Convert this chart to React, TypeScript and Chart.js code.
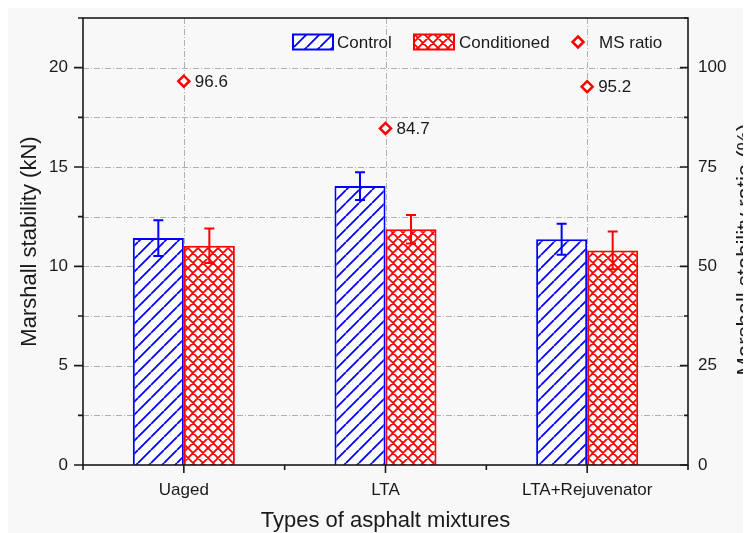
import { useEffect, useRef } from "react";
import { Chart, registerables } from "chart.js";

Chart.register(...registerables);

// Mixture types on the category axis
const categories = ["Uaged", "LTA", "LTA+Rejuvenator"];

// Marshall stability (kN), mean and standard deviation
const controlStability = [11.42, 14.04, 11.36];
const controlError = [0.9, 0.7, 0.78];
const conditionedStability = [11.04, 11.87, 10.8];
const conditionedError = [0.87, 0.72, 0.95];

// Marshall stability ratio (%)
const msRatio = [96.6, 84.7, 95.2];

// Axis ticks
const leftTicks = [0, 5, 10, 15, 20];
const leftMinorTicks = [2.5, 7.5, 12.5, 17.5, 22.5];
const rightTicks = [0, 25, 50, 75, 100];
const rightMinorTicks = [12.5, 37.5, 62.5, 87.5, 112.5];

const FONT = "'Liberation Sans', Arial, sans-serif";
const BLUE = "#0000ff";
const RED = "#ff0000";
const INK = "#1a1a1a";
const BG = "#f8f8f8";
const GRID = "#b0b0b0";

function hatchPattern(ctx: CanvasRenderingContext2D) {
  const s = 13;
  const c = document.createElement("canvas");
  c.width = s;
  c.height = s;
  const g = c.getContext("2d")!;
  g.fillStyle = "#ffffff";
  g.fillRect(0, 0, s, s);
  g.strokeStyle = BLUE;
  g.lineWidth = 1.8;
  g.beginPath();
  for (const o of [-s, 0, s]) {
    g.moveTo(o, s);
    g.lineTo(o + s, 0);
  }
  g.stroke();
  return ctx.createPattern(c, "repeat")!;
}

function crossPattern(ctx: CanvasRenderingContext2D) {
  const s = 20;
  const c = document.createElement("canvas");
  c.width = s;
  c.height = s;
  const g = c.getContext("2d")!;
  g.fillStyle = "#ffffff";
  g.fillRect(0, 0, s, s);
  g.strokeStyle = RED;
  g.lineWidth = 1.8;
  g.beginPath();
  for (let o = -s; o <= s; o += s / 2) {
    g.moveTo(o, s);
    g.lineTo(o + s, 0);
    g.moveTo(o, 0);
    g.lineTo(o + s, s);
  }
  g.stroke();
  return ctx.createPattern(c, "repeat")!;
}

function drawDiamond(ctx: CanvasRenderingContext2D, x: number, y: number, r: number) {
  ctx.beginPath();
  ctx.moveTo(x, y - r);
  ctx.lineTo(x + r, y);
  ctx.lineTo(x, y + r);
  ctx.lineTo(x - r, y);
  ctx.closePath();
  ctx.fillStyle = "#ffffff";
  ctx.fill();
  ctx.strokeStyle = RED;
  ctx.lineWidth = 2.5;
  ctx.stroke();
}

function noPadding(s: any) {
  s.paddingTop = 0;
  s.paddingBottom = 0;
  s.paddingLeft = 0;
  s.paddingRight = 0;
}

const decorations = {
  id: "decorations",
  beforeDraw(chart: any) {
    const { ctx, width, height } = chart;
    ctx.save();
    ctx.fillStyle = BG;
    ctx.fillRect(0, 0, width, height);
    ctx.restore();
  },
  beforeDatasetsDraw(chart: any) {
    const { ctx, chartArea: a, scales } = chart;
    const y = scales.y;
    const x = scales.x;
    ctx.save();
    ctx.strokeStyle = GRID;
    ctx.lineWidth = 1;
    ctx.setLineDash([6, 2, 1, 2]);
    for (const v of [...leftTicks, ...leftMinorTicks]) {
      if (v <= 0 || v >= 22.5) continue;
      const py = Math.round(y.getPixelForValue(v)) + 0.5;
      ctx.beginPath();
      ctx.moveTo(a.left, py);
      ctx.lineTo(a.right, py);
      ctx.stroke();
    }
    for (let i = 0; i < categories.length; i++) {
      const px = Math.round(x.getPixelForValue(i)) + 0.5;
      ctx.beginPath();
      ctx.moveTo(px, a.top);
      ctx.lineTo(px, a.bottom);
      ctx.stroke();
    }
    ctx.restore();
  },
  afterDatasetsDraw(chart: any) {
    const { ctx, scales } = chart;
    const y = scales.y;
    ctx.save();
    chart.data.datasets.forEach((ds: any, di: number) => {
      if (!ds.errors) return;
      const meta = chart.getDatasetMeta(di);
      ctx.strokeStyle = ds.borderColor;
      ctx.lineWidth = 2;
      meta.data.forEach((bar: any, i: number) => {
        const v = ds.data[i];
        const e = ds.errors[i];
        const top = y.getPixelForValue(v + e);
        const bot = y.getPixelForValue(v - e);
        const cx = bar.x;
        ctx.beginPath();
        ctx.moveTo(cx, top);
        ctx.lineTo(cx, bot);
        ctx.moveTo(cx - 5, top);
        ctx.lineTo(cx + 5, top);
        ctx.moveTo(cx - 5, bot);
        ctx.lineTo(cx + 5, bot);
        ctx.stroke();
      });
    });

    // Ratio value labels beside the markers
    const li = chart.data.datasets.findIndex((d: any) => d.label === "MS ratio");
    const lmeta = chart.getDatasetMeta(li);
    ctx.fillStyle = INK;
    ctx.font = `17px ${FONT}`;
    ctx.textAlign = "left";
    ctx.textBaseline = "middle";
    lmeta.data.forEach((pt: any, i: number) => {
      ctx.fillText(msRatio[i].toFixed(1), pt.x + 11, pt.y + 1);
    });
    ctx.restore();
  },
  afterDraw(chart: any) {
    const { ctx, chartArea: a, scales } = chart;
    const y = scales.y;
    const y1 = scales.y1;
    const x = scales.x;
    ctx.save();

    // Frame
    ctx.strokeStyle = INK;
    ctx.lineWidth = 1.6;
    ctx.setLineDash([]);
    ctx.strokeRect(a.left, a.top, a.right - a.left, a.bottom - a.top);

    // Left axis ticks (outward)
    ctx.beginPath();
    for (const v of leftTicks) {
      const py = y.getPixelForValue(v);
      ctx.moveTo(a.left - 9, py);
      ctx.lineTo(a.left, py);
    }
    for (const v of leftMinorTicks) {
      const py = y.getPixelForValue(v);
      ctx.moveTo(a.left - 5, py);
      ctx.lineTo(a.left, py);
    }
    // Right axis ticks (inward)
    for (const v of rightTicks) {
      const py = y1.getPixelForValue(v);
      ctx.moveTo(a.right - 8, py);
      ctx.lineTo(a.right, py);
    }
    for (const v of rightMinorTicks) {
      const py = y1.getPixelForValue(v);
      ctx.moveTo(a.right - 4, py);
      ctx.lineTo(a.right, py);
    }
    // Bottom axis ticks: centers and category boundaries
    const step = (a.right - a.left) / categories.length;
    for (let i = 0; i < categories.length; i++) {
      const px = x.getPixelForValue(i);
      ctx.moveTo(px, a.bottom);
      ctx.lineTo(px, a.bottom + 8);
    }
    for (let i = 0; i <= categories.length; i++) {
      const px = a.left + step * i;
      ctx.moveTo(px, a.bottom);
      ctx.lineTo(px, a.bottom + 5);
    }
    ctx.stroke();

    // Axis titles
    ctx.fillStyle = INK;
    ctx.textAlign = "center";
    ctx.textBaseline = "middle";
    ctx.font = `22px ${FONT}`;
    ctx.fillText("Types of asphalt mixtures", (a.left + a.right) / 2, 513);
    const midY = (a.top + a.bottom) / 2;
    ctx.save();
    ctx.translate(22, midY);
    ctx.rotate(-Math.PI / 2);
    ctx.fillText("Marshall stability (kN)", 0, 0);
    ctx.restore();
    ctx.save();
    ctx.translate(738, midY + 8);
    ctx.rotate(-Math.PI / 2);
    ctx.fillText("Marshall stability ratio (%)", 0, 0);
    ctx.restore();

    // Legend
    const ds = chart.data.datasets;
    const ly = 34;
    ctx.font = `17px ${FONT}`;
    ctx.textAlign = "left";
    const boxes = [
      { d: ds.find((d: any) => d.label === "Control"), bx: 285, tx: 329 },
      { d: ds.find((d: any) => d.label === "Conditioned"), bx: 406, tx: 451 },
    ];
    for (const b of boxes) {
      ctx.fillStyle = b.d.backgroundColor;
      ctx.fillRect(b.bx, ly - 7.5, 40, 15);
      ctx.strokeStyle = b.d.borderColor;
      ctx.lineWidth = 2;
      ctx.strokeRect(b.bx, ly - 7.5, 40, 15);
      ctx.fillStyle = INK;
      ctx.fillText(b.d.label, b.tx, ly + 1);
    }
    drawDiamond(ctx, 570, ly, 5.5);
    ctx.fillStyle = INK;
    ctx.fillText("MS ratio", 591, ly + 1);

    ctx.restore();
  },
};

export default function App() {
  const ref = useRef<HTMLCanvasElement | null>(null);

  useEffect(() => {
    document.documentElement.style.overflow = "hidden";
    document.body.style.overflow = "hidden";
    const canvas = ref.current!;
    const ctx = canvas.getContext("2d")!;
    const hatch = hatchPattern(ctx);
    const cross = crossPattern(ctx);
    const tickFont = { family: FONT, size: 17 };

    const chart = new Chart(ctx, {
      data: {
        labels: categories,
        datasets: [
          {
            type: "line",
            label: "MS ratio",
            data: msRatio,
            yAxisID: "y1",
            showLine: false,
            pointStyle: "rectRot",
            pointRadius: 5.5,
            pointBorderWidth: 2.5,
            pointBorderColor: RED,
            pointBackgroundColor: "#ffffff",
            order: 0,
          },
          {
            type: "bar",
            label: "Control",
            data: controlStability,
            errors: controlError,
            yAxisID: "y",
            backgroundColor: hatch,
            borderColor: BLUE,
            borderWidth: 2,
            categoryPercentage: 0.506,
            barPercentage: 1,
            order: 1,
          },
          {
            type: "bar",
            label: "Conditioned",
            data: conditionedStability,
            errors: conditionedError,
            yAxisID: "y",
            backgroundColor: cross,
            borderColor: RED,
            borderWidth: 2,
            categoryPercentage: 0.506,
            barPercentage: 1,
            order: 1,
          },
        ] as any,
      },
      options: {
        responsive: false,
        animation: false,
        layout: { padding: { top: 10, left: 0, right: 0, bottom: 0 } },
        plugins: { legend: { display: false }, tooltip: { enabled: false } },
        scales: {
          x: {
            type: "category",
            offset: true,
            grid: { display: false, drawTicks: false, tickLength: 0 },
            border: { display: false },
            ticks: { font: tickFont, color: INK, padding: 15, maxRotation: 0, autoSkip: false },
            afterFit: (s: any) => {
              s.height = 68;
              noPadding(s);
            },
          },
          y: {
            type: "linear",
            position: "left",
            min: 0,
            max: 22.5,
            grid: { display: false, drawTicks: false, tickLength: 0 },
            border: { display: false },
            ticks: { font: tickFont, color: INK, padding: 15 },
            afterBuildTicks: (s: any) => {
              s.ticks = leftTicks.map((value) => ({ value }));
            },
            afterFit: (s: any) => {
              s.width = 75;
              noPadding(s);
            },
          },
          y1: {
            type: "linear",
            position: "right",
            min: 0,
            max: 112.5,
            grid: { display: false, drawTicks: false, tickLength: 0 },
            border: { display: false },
            ticks: { font: tickFont, color: INK, padding: 10 },
            afterBuildTicks: (s: any) => {
              s.ticks = rightTicks.map((value) => ({ value }));
            },
            afterFit: (s: any) => {
              s.width = 63;
              noPadding(s);
            },
          },
        },
      } as any,
      plugins: [decorations],
    });

    return () => chart.destroy();
  }, []);

  return (
    <div style={{ width: 743, height: 525, overflow: "hidden" }}>
      <canvas ref={ref} width={743} height={525} style={{ display: "block" }} />
    </div>
  );
}
